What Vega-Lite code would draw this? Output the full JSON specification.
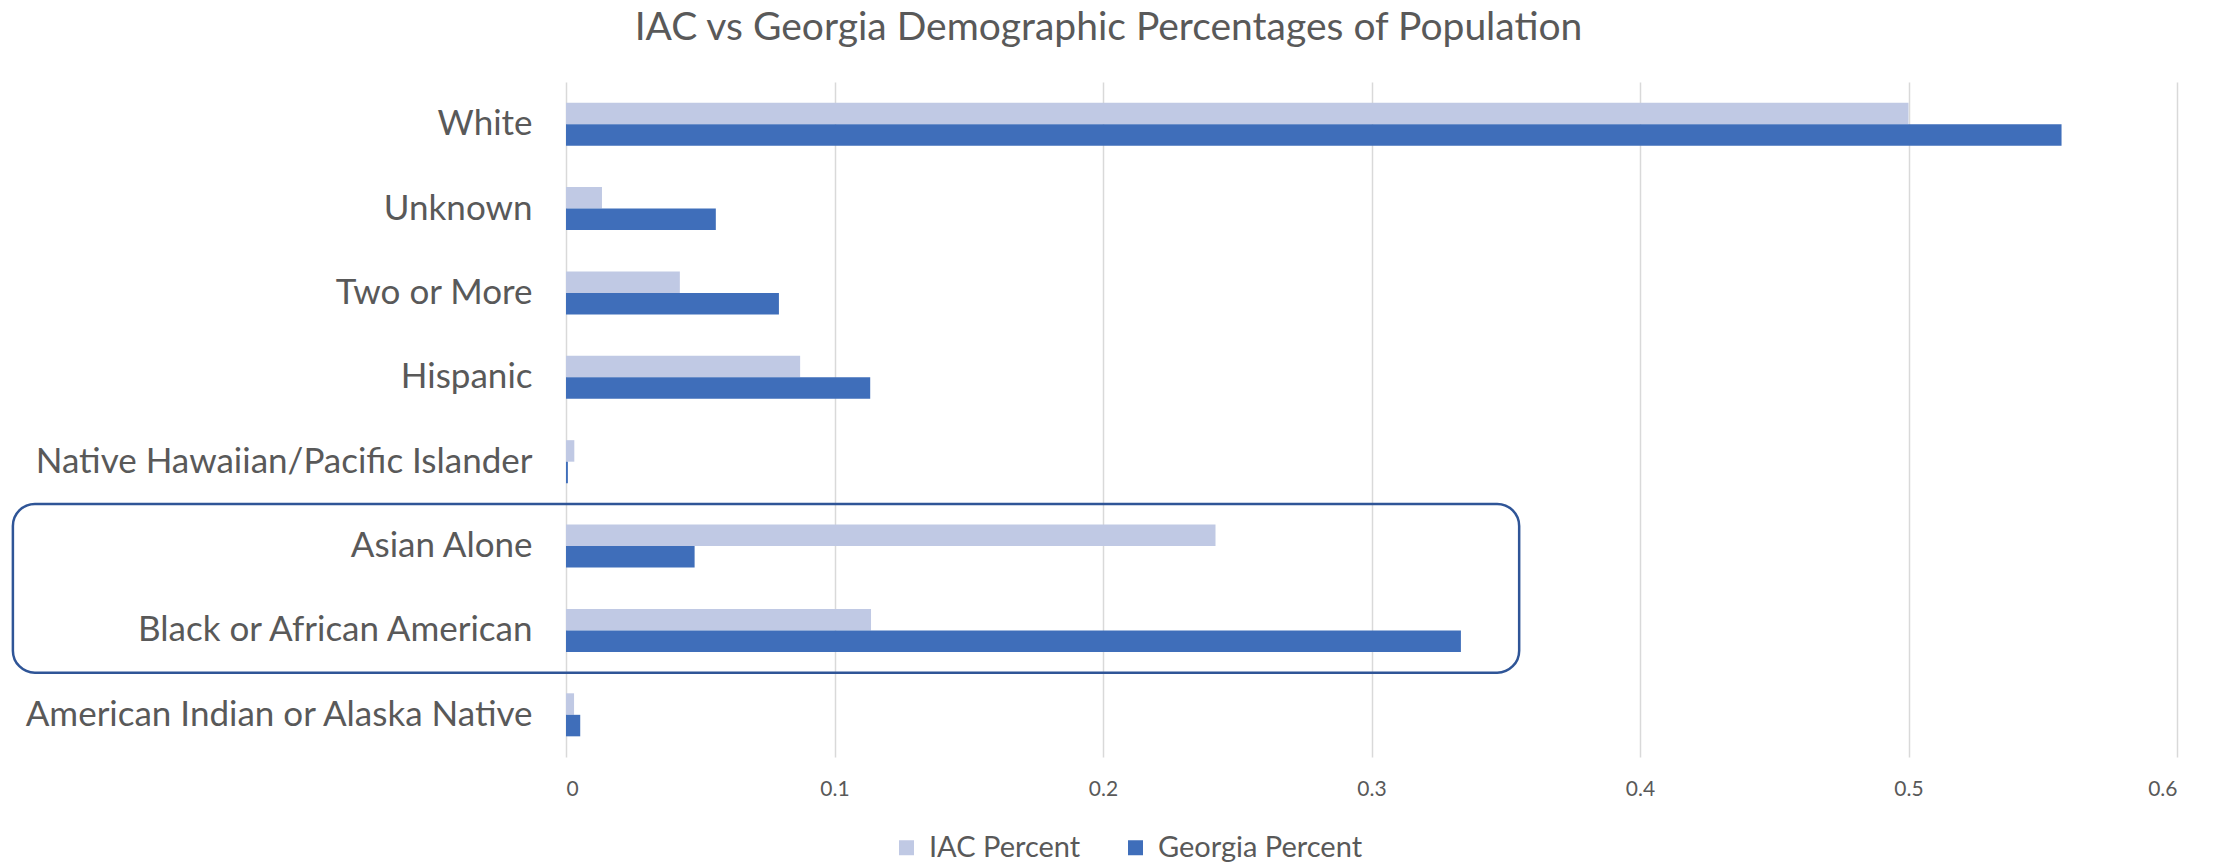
{
  "$schema": "https://vega.github.io/schema/vega-lite/v6.json",
  "autosize": {"type": "none"},
  "padding": {"left": 566, "top": 82, "right": 39, "bottom": 107},
  "width": 1611,
  "height": 675,
  "background": "white",
  "title": {
    "text": "IAC vs Georgia Demographic Percentages of Population",
    "font": "Lato",
    "fontSize": 39,
    "fontWeight": "normal",
    "color": "#595959",
    "anchor": "middle",
    "dx": -263,
    "offset": 34
  },
  "config": {
    "view": {"stroke": null},
    "font": "Lato"
  },
  "datasets": {
    "bars": [
      {"category": "White", "series": "IAC Percent", "value": 0.5},
      {"category": "White", "series": "Georgia Percent", "value": 0.557},
      {"category": "Unknown", "series": "IAC Percent", "value": 0.0134},
      {"category": "Unknown", "series": "Georgia Percent", "value": 0.0558},
      {"category": "Two or More", "series": "IAC Percent", "value": 0.0424},
      {"category": "Two or More", "series": "Georgia Percent", "value": 0.0793},
      {"category": "Hispanic", "series": "IAC Percent", "value": 0.0872},
      {"category": "Hispanic", "series": "Georgia Percent", "value": 0.1133},
      {"category": "Native Hawaiian/Pacific Islander", "series": "IAC Percent", "value": 0.0031},
      {"category": "Native Hawaiian/Pacific Islander", "series": "Georgia Percent", "value": 0.0007},
      {"category": "Asian Alone", "series": "IAC Percent", "value": 0.2419},
      {"category": "Asian Alone", "series": "Georgia Percent", "value": 0.0479},
      {"category": "Black or African American", "series": "IAC Percent", "value": 0.1136},
      {"category": "Black or African American", "series": "Georgia Percent", "value": 0.3333},
      {"category": "American Indian or Alaska Native", "series": "IAC Percent", "value": 0.003},
      {"category": "American Indian or Alaska Native", "series": "Georgia Percent", "value": 0.0053}
    ],
    "box": [
      {"x0": -0.206, "x1": 0.355, "y0": 1, "y1": 3}
    ]
  },
  "layer": [
    {
      "data": {"name": "bars"},
      "mark": {"type": "bar"},
      "encoding": {
        "y": {
          "field": "category",
          "type": "nominal",
          "sort": ["White", "Unknown", "Two or More", "Hispanic", "Native Hawaiian/Pacific Islander", "Asian Alone", "Black or African American", "American Indian or Alaska Native"],
          "scale": {"paddingInner": 0.49, "paddingOuter": 0.245},
          "axis": {
            "title": null,
            "domain": false,
            "ticks": false,
            "labelFontSize": 35,
            "labelColor": "#595959",
            "labelPadding": 34,
            "labelLimit": 800
          }
        },
        "yOffset": {
          "field": "series",
          "type": "nominal",
          "sort": ["IAC Percent", "Georgia Percent"]
        },
        "x": {
          "field": "value",
          "type": "quantitative",
          "scale": {"domain": [0, 0.6], "nice": false, "zero": true},
          "axis": {
            "title": null,
            "values": [0, 0.1, 0.2, 0.3, 0.4, 0.5, 0.6],
            "format": "~g",
            "domain": false,
            "ticks": false,
            "grid": true,
            "gridColor": "#D9D9D9",
            "gridWidth": 1.5,
            "labelFontSize": 21,
            "labelColor": "#595959",
            "labelPadding": 21
          }
        },
        "color": {
          "field": "series",
          "type": "nominal",
          "scale": {"domain": ["IAC Percent", "Georgia Percent"], "range": ["#C0C9E4", "#3F6EBA"]},
          "legend": {
            "title": null,
            "orient": "none",
            "direction": "horizontal",
            "legendX": 326,
            "legendY": 751,
            "symbolType": "square",
            "symbolSize": 225,
            "symbolStrokeWidth": 0,
            "labelFontSize": 29,
            "labelColor": "#595959",
            "labelLimit": 600,
            "columnPadding": 40,
            "labelOffset": 8
          }
        }
      }
    },
    {
      "data": {"name": "box"},
      "mark": {"type": "rect", "filled": false, "stroke": "#2F5597", "strokeWidth": 2.5, "cornerRadius": 22, "clip": false},
      "encoding": {
        "x": {"field": "x0", "type": "quantitative"},
        "x2": {"field": "x1"},
        "y": {"field": "y0", "type": "quantitative", "scale": {"domain": [0, 8], "nice": false}, "axis": null},
        "y2": {"field": "y1"}
      }
    }
  ],
  "resolve": {"scale": {"y": "independent"}}
}
